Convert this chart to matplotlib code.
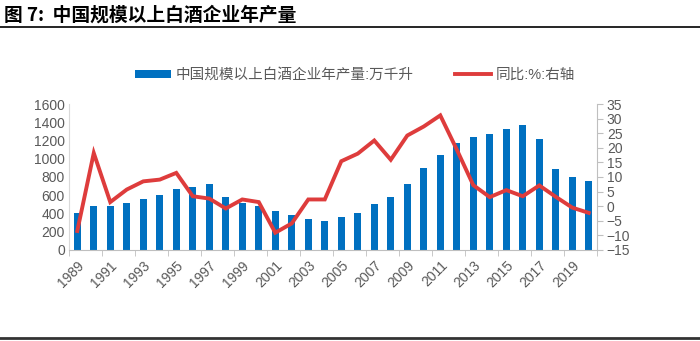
import matplotlib.pyplot as plt
import numpy as np

plt.rcParams["font.family"] = ["Liberation Sans", "Noto Sans CJK SC", "DejaVu Sans"]

years = list(range(1989, 2021))
output = [405, 478, 485, 515, 554, 602, 671, 690, 719, 584, 515, 485, 427, 387, 343, 321,
          361, 405, 504, 580, 719, 901, 1036, 1172, 1241, 1270, 1328, 1372, 1211, 883, 799, 756]
yoy = [-8.5, 18.2, 1.4, 5.7, 8.5, 9.1, 11.4, 3.4, 2.6, -0.8, 2.3, 1.4, -9.1, -5.9, 2.3, 2.3,
       15.4, 18.0, 22.5, 15.9, 24.2, 27.3, 31.1, 19.4, 7.2, 3.1, 5.5, 3.4, 7.1, 3.2, -0.5, -2.3]

BLUE = "#0070C0"
RED = "#DE3C3C"
GREY = "#595959"

fig = plt.figure(figsize=(7, 3.41), dpi=100)
ax = fig.add_axes([0.0986, 0.267, 0.7543, 0.428])
ax2 = ax.twinx()

x = np.arange(len(years))
bars = ax.bar(x, output, width=0.4, color=BLUE, zorder=2, label="中国规模以上白酒企业年产量:万千升")
line, = ax2.plot(x, yoy, color=RED, linewidth=2.8, solid_joinstyle="miter", label="同比:%:右轴")

ax.set_xlim(-0.5, len(years) - 0.5)
ax.set_ylim(0, 1600)
ax.set_yticks(range(0, 1601, 200))
ax2.set_ylim(-15, 35)
ax2.set_yticks(range(-15, 36, 5))

ax.set_xticks(x[::2])
ax.set_xticklabels([str(y) for y in years[::2]], rotation=45, ha="right", rotation_mode="anchor")
ax.set_xticks(np.arange(-0.5, len(years), 2), minor=True)
ax.tick_params(axis="x", which="major", length=0, pad=6, labelsize=10, colors=GREY)
ax.tick_params(axis="x", which="minor", length=4, color="#BFBFBF")
ax.tick_params(axis="y", length=0, labelsize=10, colors=GREY, pad=3)
ax2.tick_params(axis="y", length=4, color="#BFBFBF", labelsize=10, colors=GREY, pad=3)

for a in (ax, ax2):
    a.spines["top"].set_visible(False)
    a.spines["left"].set_color("#D9D9D9")
    a.spines["right"].set_color("#BFBFBF")
    a.spines["bottom"].set_color("#BFBFBF")
ax.spines["right"].set_visible(False)
ax2.spines["left"].set_visible(False)
ax2.spines["bottom"].set_visible(False)

fig.legend(handles=[bars, line], loc="center", bbox_to_anchor=(0.507, 0.78), ncol=2, frameon=False,
           fontsize=10.5, handlelength=2.5, handleheight=0.5, columnspacing=2.8, handletextpad=0.3,
           labelcolor=GREY)

fig.text(0.005, 0.957, "图 7:  中国规模以上白酒企业年产量", fontsize=13.5, fontweight="bold",
         family=["Noto Sans CJK SC"], va="center", ha="left")
fig.add_artist(plt.Line2D([0, 1], [0.922, 0.922], color="black", linewidth=1.2))
fig.add_artist(plt.Line2D([0, 1], [0.008, 0.008], color="#333333", linewidth=2))

fig.savefig("out.png", dpi=100)
